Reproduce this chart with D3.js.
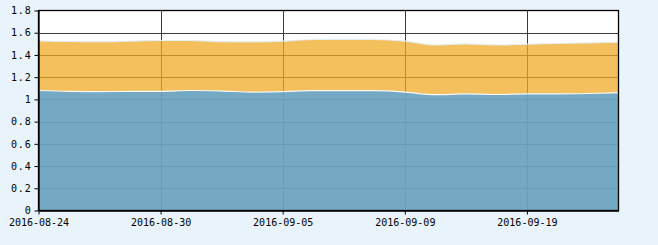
<!DOCTYPE html>
<html>
<head>
<meta charset="utf-8">
<script src="https://cdn.jsdelivr.net/npm/d3@7"></script>
<style>
  body { margin: 0; background: #e8f3fb; }
  svg text { font-family: "DejaVu Sans Mono", monospace; font-size: 10px; fill: #000; }
</style>
</head>
<body>
<div class="mainContainer"></div>
<script>
// trading days shown on the chart
const dates = ['2016-08-24','2016-08-25','2016-08-26','2016-08-29','2016-08-30','2016-08-31',
  '2016-09-01','2016-09-02','2016-09-05','2016-09-06','2016-09-07','2016-09-08','2016-09-09',
  '2016-09-12','2016-09-13','2016-09-14','2016-09-19','2016-09-20','2016-09-21','2016-09-22'];

// blue area (front)
const unitNav = [1.080,1.072,1.070,1.072,1.072,1.080,1.075,1.066,1.070,1.078,1.078,1.078,1.066,
  1.042,1.050,1.044,1.050,1.050,1.053,1.060];

// orange area (behind)
const cumNav = [1.527,1.521,1.520,1.525,1.530,1.530,1.520,1.518,1.524,1.539,1.540,1.539,1.525,
  1.490,1.500,1.490,1.497,1.503,1.509,1.515];

const yTicks = [0,0.2,0.4,0.6,0.8,1,1.2,1.4,1.6,1.8];
const xTickDates = ['2016-08-24','2016-08-30','2016-09-05','2016-09-09','2016-09-19'];

const data = dates.map((d,i) => ({date: d, unit: unitNav[i], cum: cumNav[i]}));

const svg = d3.select('.mainContainer')
  .append('svg')
  .attr('width', 658)
  .attr('height', 245);

const pLeft = 38.5, pRight = 618.5, pTop = 10.5, pBottom = 210.5;

const x = d3.scalePoint()
  .domain(dates)
  .range([pLeft, pRight]);

const y = d3.scaleLinear()
  .domain([0, 1.8])
  .range([pBottom, pTop]);

// plot background
svg.append('rect')
  .attr('x', pLeft).attr('y', pTop)
  .attr('width', pRight-pLeft).attr('height', pBottom-pTop)
  .attr('fill', '#fff');

// grid
const grid = svg.append('g');
grid.selectAll('.hg')
  .data(yTicks.slice(1, -1))
  .enter().append('line')
  .attr('x1', pLeft).attr('x2', pRight)
  .attr('y1', d => Math.round(y(d)) + 0.5).attr('y2', d => Math.round(y(d)) + 0.5)
  .attr('stroke', '#3a3a3a');
grid.selectAll('.vg')
  .data(xTickDates.slice(1))
  .enter().append('line')
  .attr('x1', d => Math.round(x(d)) + 0.5).attr('x2', d => Math.round(x(d)) + 0.5)
  .attr('y1', pTop).attr('y2', pBottom)
  .attr('stroke', '#3a3a3a');

const curve = d3.curveMonotoneX;

const areaOf = k => d3.area()
  .x(d => x(d.date))
  .y0(y(0))
  .y1(d => y(d[k]))
  .curve(curve);

svg.append('path')
  .datum(data)
  .attr('d', areaOf('cum'))
  .attr('fill', 'rgb(240,171,40)')
  .attr('fill-opacity', 0.75);

svg.append('path')
  .datum(data)
  .attr('d', areaOf('unit'))
  .attr('fill', 'rgb(75,160,230)')
  .attr('fill-opacity', 0.75);

// thin pale edges on top of each area
[['cum', 'rgba(225,240,250,0.9)'], ['unit', 'rgba(255,255,255,0.9)']].forEach(([k, c]) => {
  svg.append('path')
    .datum(data)
    .attr('d', d3.line().x(d => x(d.date)).y(d => y(d[k])).curve(curve))
    .attr('fill', 'none')
    .attr('stroke', c)
    .attr('stroke-width', 1.2);
});

// frame
svg.append('rect')
  .attr('x', pLeft).attr('y', pTop)
  .attr('width', pRight-pLeft).attr('height', pBottom-pTop)
  .attr('fill', 'none')
  .attr('stroke', '#000')
  .attr('stroke-width', 1.3);

const yAxis = d3.axisLeft(y)
  .tickValues(yTicks)
  .tickSize(4)
  .tickSizeOuter(0)
  .tickPadding(3)
  .tickFormat(d3.format('~g'));

const yAxisGroup = svg.append('g')
  .attr('transform', `translate(${pLeft},0)`)
  .call(yAxis);

const xAxis = d3.axisBottom(x)
  .tickValues(xTickDates)
  .tickSize(4)
  .tickSizeOuter(0)
  .tickPadding(4);

const xAxisGroup = svg.append('g')
  .attr('transform', `translate(0,${pBottom})`)
  .call(xAxis);

[xAxisGroup, yAxisGroup].forEach(g => {
  g.select('.domain').attr('stroke', '#000').attr('stroke-width', 1.3);
  g.selectAll('.tick line').attr('stroke', '#000');
  g.selectAll('text').attr('font-family', null).attr('font-size', null);
});
yAxisGroup.selectAll('text').attr('letter-spacing', '0.8px');
</script>
</body>
</html>
